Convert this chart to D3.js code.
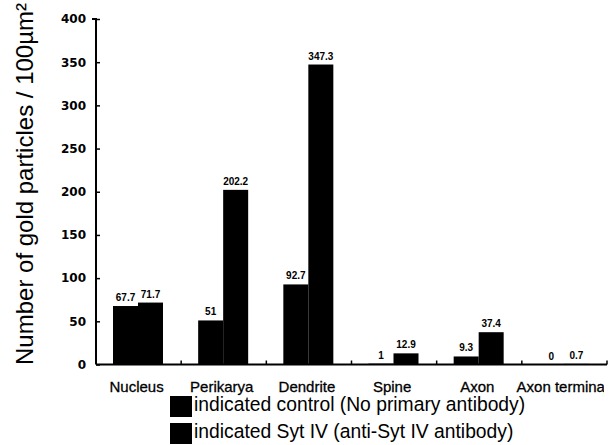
<!doctype html>
<html>
<head>
<script src="https://d3js.org/d3.v7.min.js"></script>
<style>
  body { margin: 0; background: #fff; }
  svg { display: block; }
</style>
</head>
<body>
<svg width="614" height="445"></svg>
<script>
// chart values
var categories = ["Nucleus", "Perikarya", "Dendrite", "Spine", "Axon", "Axon terminal"];
var seriesNames = ["indicated control (No primary antibody)", "indicated Syt IV (anti-Syt IV antibody)"];
var controlValues = [67.7, 51, 92.7, 1, 9.3, 0];
var sytValues = [71.7, 202.2, 347.3, 12.9, 37.4, 0.7];
var yTicks = [0, 50, 100, 150, 200, 250, 300, 350, 400];

var svg = d3.select("svg");

var plotLeft = 96, plotRight = 607, plotTop = 19, plotBottom = 364.5;

var xScale = d3.scaleBand().domain(categories).range([plotLeft, plotRight]);
var inner = d3.scaleBand().domain([0, 1]).range([17, 67]);
var yScale = d3.scaleLinear().domain([0, 400]).range([plotBottom, plotTop]);

var rows = categories.map(function(c, i) {
    return { cat: c, vals: [controlValues[i], sytValues[i]] };
});

// the last category label runs off the right edge in the original
svg.append("clipPath").attr("id", "labclip")
    .append("rect").attr("x", 0).attr("y", 0).attr("width", 604).attr("height", 445);

// bars
var groups = svg.selectAll(".grp")
    .data(rows)
    .enter().append("g")
    .attr("class", "grp")
    .attr("transform", function(d) { return "translate(" + xScale(d.cat) + ",0)"; });

groups.selectAll("rect")
    .data(function(d) { return d.vals; })
    .enter().append("rect")
    .attr("x", function(d, i) { return inner(i); })
    .attr("y", function(d) { return yScale(d); })
    .attr("width", inner.bandwidth())
    .attr("height", function(d) { return yScale(0) - yScale(d); })
    .attr("fill", "#000");

groups.selectAll("text")
    .data(function(d) { return d.vals; })
    .enter().append("text")
    .attr("x", function(d, i) { return inner(i) + inner.bandwidth() / 2; })
    .attr("y", function(d) { return yScale(d) - 5; })
    .attr("text-anchor", "middle")
    .attr("font-family", "Liberation Sans, Arial, sans-serif")
    .attr("font-weight", "bold")
    .attr("font-size", "10px")
    .text(function(d) { return String(d); });

// y axis
var yAxis = svg.append("g")
    .attr("transform", "translate(" + plotLeft + ",0)")
    .call(d3.axisLeft(yScale).tickValues(yTicks).tickSize(-4).tickPadding(10).tickFormat(function(d) { return d; }));
yAxis.select(".domain").attr("stroke-width", 2).attr("d", "M-4," + plotTop + "H0V" + plotBottom);
yAxis.selectAll(".tick line").attr("stroke-width", 1.5);
yAxis.selectAll(".tick text")
    .attr("font-family", "DejaVu Sans, sans-serif")
    .attr("font-weight", "bold")
    .attr("font-size", "12px")
    .attr("fill", "#000");

// x axis
var xAxis = svg.append("g")
    .attr("transform", "translate(0," + plotBottom + ")");
xAxis.append("line")
    .attr("x1", plotLeft).attr("x2", plotRight)
    .attr("stroke", "#000").attr("stroke-width", 2);
xAxis.selectAll(".sep")
    .data(categories.slice(1).map(function(c) { return xScale(c); }).concat([plotRight]))
    .enter().append("line")
    .attr("x1", function(d) { return d; }).attr("x2", function(d) { return d; })
    .attr("y1", 0).attr("y2", -4)
    .attr("stroke", "#000").attr("stroke-width", 1.5);
svg.append("g")
    .attr("clip-path", "url(#labclip)")
    .selectAll(".lab")
    .data(categories)
    .enter().append("text")
    .attr("x", function(d) { return xScale(d) + xScale.bandwidth() / 2 - 2; })
    .attr("y", plotBottom + 27)
    .attr("text-anchor", "middle")
    .attr("font-family", "Liberation Sans, Arial, sans-serif")
    .attr("font-size", "15px")
    .attr("stroke", "#000").attr("stroke-width", 0.3)
    .text(function(d) { return d; });

// y title
svg.append("text")
    .attr("transform", "translate(33,184) rotate(-90)")
    .attr("text-anchor", "middle")
    .attr("font-family", "Liberation Sans, Arial, sans-serif")
    .attr("font-size", "24px")
    .text("Number of gold particles / 100\u00b5m\u00b2");

// legend
var legend = svg.selectAll(".leg")
    .data(seriesNames)
    .enter().append("g")
    .attr("class", "leg")
    .attr("transform", function(d, i) { return "translate(170," + (396 + i * 27) + ")"; });
legend.append("rect")
    .attr("width", 22).attr("height", 21)
    .attr("fill", "#000");
legend.append("text")
    .attr("x", 24).attr("y", 15)
    .attr("font-family", "Liberation Sans, Arial, sans-serif")
    .attr("font-size", "19.3px")
    .text(function(d) { return d; });
</script>
</body>
</html>
